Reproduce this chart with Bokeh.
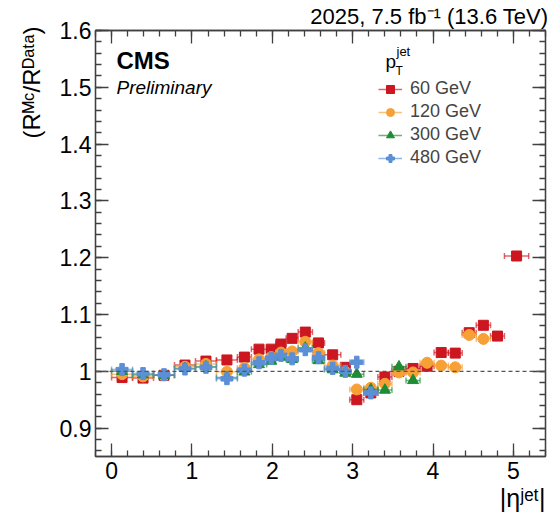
import numpy as np
from bokeh.plotting import figure
from bokeh.models import (Range1d, FixedTicker, LinearAxis, Span, Label, Legend,
                          LegendItem, CustomJSTickFormatter, ColumnDataSource,
                          CustomLabelingPolicy, Title)
from bokeh.embed import file_html
from bokeh.resources import INLINE

# ---------------- data ----------------
eta_edges = [0, 0.261, 0.522, 0.783, 1.044, 1.305, 1.566, 1.74, 1.93, 2.043, 2.172,
             2.322, 2.5, 2.65, 2.853, 2.964, 3.139, 3.314, 3.489, 3.664, 3.839,
             4.013, 4.191, 4.363, 4.538, 4.716, 4.889, 5.191]

r60 = [0.989, 0.988, 0.993, 1.011, 1.018, 1.020, 1.025, 1.039, 1.039, 1.048, 1.058,
       1.069, 1.050, 1.029, 1.007, 0.950, 0.962, 0.990, 1.000, 1.005, 1.009, 1.033,
       1.032, 1.068, 1.081, 1.062, 1.203]
r120 = [0.995, 0.991, 0.993, 1.008, 1.013, 0.999, 1.006, 1.021, 1.025, 1.033, 1.035,
        1.052, 1.032, 1.010, 0.999, 0.968, 0.971, 0.978, 0.998, 0.998, 1.015, 1.010,
        1.007, 1.064, 1.057]
r300 = [1.000, 0.994, 0.993, 1.005, 1.008, 0.989, 0.999, 1.012, 1.018, 1.025, 1.021,
        1.041, 1.019, 1.003, 0.997, 0.995, 0.968, 0.967, 1.008, 0.984]
r480 = [1.003, 0.996, 0.994, 1.004, 1.007, 0.987, 1.002, 1.015, 1.023, 1.028, 1.022,
        1.038, 1.024, 1.005, 1.000, 1.016, 0.962]

labels = ["60 GeV", "120 GeV", "300 GeV", "480 GeV"]
x_ticks = [0, 1, 2, 3, 4, 5]
y_ticks = [0.9, 1.0, 1.1, 1.2, 1.3, 1.4, 1.5, 1.6]
title_text = "2025, 7.5 fb\u207b\u00b9 (13.6 TeV)"
x_title = "|\u03b7\u02b2\u1d49\u1d57|"
y_title = "(R\u1d39\u1d9c/R\u1d30\u1d43\u1d57\u1d43)"

FONT = "Liberation Sans"
AX = "#404040"

p = figure(width=557, height=519, output_backend="svg", toolbar_location=None,
           x_range=Range1d(-0.2, 5.4), y_range=Range1d(0.85, 1.6),
           min_border_left=95, min_border_right=12, min_border_top=30,
           min_border_bottom=63)
p.grid.visible = False
p.outline_line_color = AX
p.outline_line_width = 1.3
p.background_fill_color = "white"
p.border_fill_color = "white"

xt = FixedTicker(ticks=x_ticks, minor_ticks=list(np.round(np.arange(-0.2, 5.41, 0.2), 3)))
yt = FixedTicker(ticks=y_ticks, minor_ticks=list(np.round(np.arange(0.86, 1.601, 0.02), 3)))
fmt = CustomJSTickFormatter(code="return (Math.round(tick*10)/10).toString();")


def style_axis(ax, show):
    ax.axis_line_color = AX
    ax.axis_line_width = 1.3
    ax.major_tick_line_color = AX
    ax.minor_tick_line_color = AX
    ax.major_tick_line_width = 1.3
    ax.minor_tick_line_width = 1.3
    ax.major_tick_in = 13
    ax.major_tick_out = 0
    ax.minor_tick_in = 6
    ax.minor_tick_out = 0
    ax.major_label_text_font = FONT
    ax.major_label_text_color = "black"
    if show:
        ax.major_label_text_font_size = "23px"
    else:
        ax.major_label_text_font_size = "1px"
        ax.major_label_standoff = 0
        ax.major_label_policy = CustomLabelingPolicy(
            code="for (const i of indices) indices.unset(i)")


p.xaxis.ticker = xt
p.yaxis.ticker = yt
p.yaxis.formatter = fmt
style_axis(p.xaxis[0], True)
style_axis(p.yaxis[0], True)
p.xaxis.major_label_standoff = 5
p.yaxis.major_label_standoff = 4

top = LinearAxis(ticker=xt)
right = LinearAxis(ticker=yt)
style_axis(top, False)
style_axis(right, False)
p.add_layout(top, "above")
p.add_layout(right, "right")

# titles around the frame
p.title.text = title_text
p.title.align = "right"
p.title.text_font = FONT
p.title.text_font_size = "22px"
p.title.text_font_style = "normal"
p.title.text_color = "black"
p.title.text_line_height = 1.0
p.title.standoff = -5
p.title.offset = -3

p.add_layout(Title(text=x_title, align="right", text_font=FONT,
                   text_font_size="25px", text_font_style="normal",
                   text_color="black", text_line_height=1.0, standoff=1), "below")
p.add_layout(Title(text=y_title, align="right", text_font=FONT,
                   text_font_size="24px", text_font_style="normal",
                   text_color="black", text_line_height=1.0, standoff=23,
                   offset=-4), "left")

p.add_layout(Span(location=1.0, dimension="width", line_color="#555555",
                  line_dash="4 3", line_width=1.3))

colors = ["#cc1620", "#f7a035", "#1e8c35", "#5b8fd6"]
markers = ["square", "circle", "triangle", "plus"]
sizes = [10, 11, 11, 12]
data = [r60, r120, r300, r480]

items = []
for lab_, vals, mk, col, sz in zip(labels, data, markers, colors, sizes):
    n = len(vals)
    lo = np.array(eta_edges[:n])
    hi = np.array(eta_edges[1:n + 1])
    src = ColumnDataSource(dict(x=(lo + hi) / 2, y=vals, lo=lo, hi=hi))
    seg = p.segment(x0="lo", x1="hi", y0="y", y1="y", source=src,
                    line_color=col, line_width=1.5, line_alpha=0.65)
    p.scatter(x="lo", y="y", source=src, marker="dash", angle=np.pi / 2, size=6,
              line_color=col, line_width=1.5, line_alpha=0.65)
    p.scatter(x="hi", y="y", source=src, marker="dash", angle=np.pi / 2, size=6,
              line_color=col, line_width=1.5, line_alpha=0.65)
    sc = p.scatter(x="x", y="y", source=src, marker=mk, size=sz,
                   fill_color=col, line_color=col, line_width=1)
    items.append(LegendItem(label=lab_, renderers=[seg, sc]))

legend = Legend(items=items, location=(283, 287), label_text_font=FONT,
                label_text_font_size="18px", glyph_width=24, glyph_height=20,
                label_height=23, spacing=0, padding=0, margin=0,
                label_standoff=8, border_line_color=None,
                background_fill_alpha=0)
p.add_layout(legend)


def lab(text, x, y, size, align="left", style="normal", bold=False):
    p.add_layout(Label(x=x, y=y, x_units="screen", y_units="screen", text=text,
                       text_font=FONT, text_font_size=f"{size}px",
                       text_font_style=("bold" if bold else style),
                       text_align=align, text_baseline="alphabetic",
                       text_color="black"))


# CMS / Preliminary (frame-relative)
lab("CMS", 21, 396, 24, bold=True)
lab("Preliminary", 21, 369, 19, style="italic")

# legend header p_T^jet
lab("p", 290, 395, 19)
lab("T", 300, 386, 12)
lab("jet", 301, 405, 13)

open("out.html", "w").write(file_html(p, INLINE))
